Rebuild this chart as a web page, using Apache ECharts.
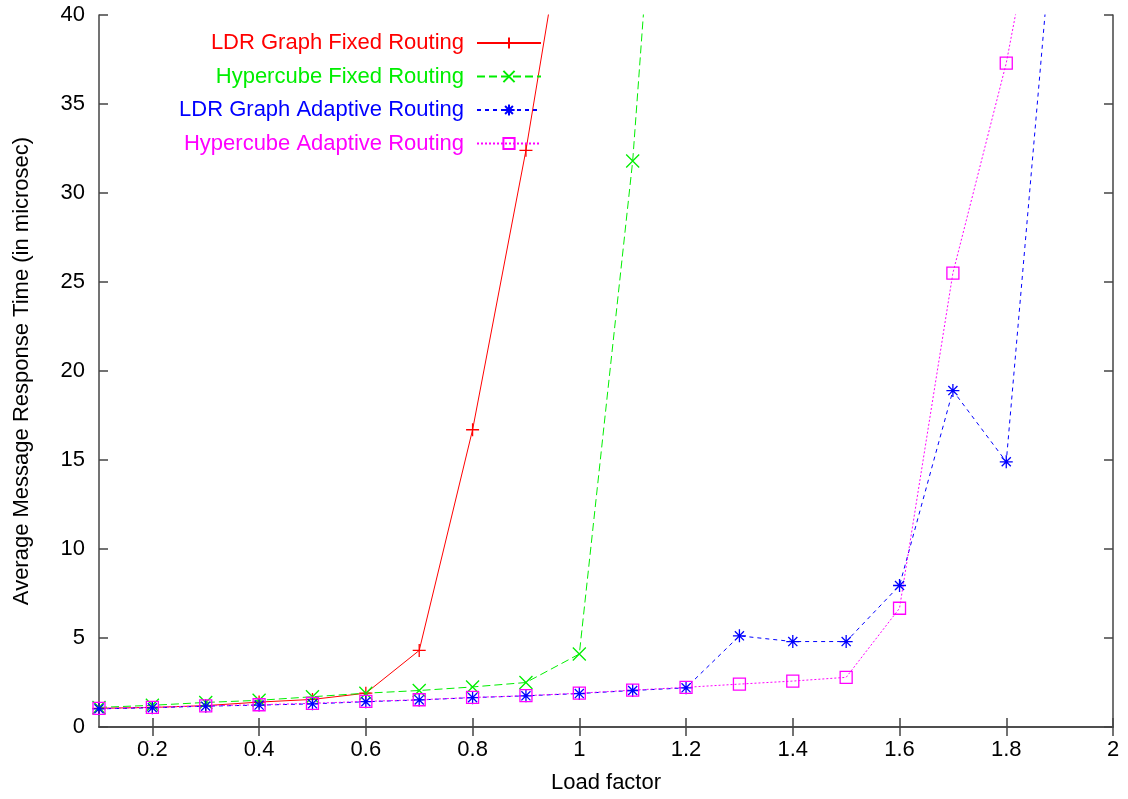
<!DOCTYPE html>
<html>
<head>
<meta charset="utf-8">
<script src="https://cdn.jsdelivr.net/npm/echarts@6/dist/echarts.min.js"></script>
<style>
  html, body { margin: 0; padding: 0; background: #fff; }
  #chart { width: 1128px; height: 799px; }
</style>
</head>
<body>
<div id="chart"></div>
<script>
const loads = [0.1, 0.2, 0.3, 0.4, 0.5, 0.6, 0.7, 0.8, 0.9, 1.0, 1.1, 1.2, 1.3, 1.4, 1.5, 1.6, 1.7, 1.8, 1.9];
const ldrFixed = [1.05, 1.1, 1.2, 1.4, 1.55, 1.9, 4.3, 16.7, 32.4, 50.5];
const hyperFixed = [1.1, 1.22, 1.38, 1.5, 1.7, 1.9, 2.05, 2.25, 2.5, 4.1, 31.8, 72.8];
const ldrAdaptive = [1.02, 1.08, 1.17, 1.23, 1.3, 1.42, 1.52, 1.65, 1.75, 1.88, 2.05, 2.2, 5.12, 4.8, 4.8, 7.95, 18.9, 14.9, 49.5];
const hyperAdaptive = [1.05, 1.1, 1.19, 1.25, 1.33, 1.44, 1.53, 1.66, 1.76, 1.9, 2.07, 2.23, 2.41, 2.58, 2.79, 6.67, 25.5, 37.3, 53];
const seriesNames = ["LDR Graph Fixed Routing", "Hypercube Fixed Routing", "LDR Graph Adaptive Routing", "Hypercube Adaptive Routing"];
const xTicks = [0.2, 0.4, 0.6, 0.8, 1.0, 1.2, 1.4, 1.6, 1.8, 2.0];

const colors = ["#ff0000", "#00ee00", "#0000ff", "#ff00ff"];
const symbols = [
  "path://M0,5L10,5M5,0L5,10",
  "path://M0,0L10,10M0,10L10,0",
  "path://M0,5L10,5M5,0L5,10M1.5,1.5L8.5,8.5M1.5,8.5L8.5,1.5",
  "path://M0,0L10,0L10,10L0,10Z"
];
const dashes = ["solid", [8, 4], [4, 4], [2, 2]];
const font = "Liberation Sans, Arial, sans-serif";
const frame = "#444";

const chart = echarts.init(document.getElementById("chart"));

function pairs(values) {
  return values.map((v, i) => [loads[i], v]);
}

const allData = [ldrFixed, hyperFixed, ldrAdaptive, hyperAdaptive];

const option = {
  animation: false,
  backgroundColor: "#fff",
  textStyle: { fontFamily: font },
  grid: { left: 99, top: 15, right: 15, bottom: 71 },
  legend: {
    orient: "vertical",
    align: "right",
    right: 581,
    top: 27,
    itemWidth: 64,
    itemHeight: 14,
    itemGap: 11.5,
    textStyle: { fontSize: 22, fontFamily: font, lineHeight: 22, padding: [0, 8, 0, 0] },
    data: seriesNames.map((n, i) => ({ name: n, textStyle: { color: colors[i] } }))
  },
  xAxis: [
    {
      type: "value",
      min: 0.1,
      max: 2,
      name: "Load factor",
      nameLocation: "middle",
      nameGap: 45,
      nameTextStyle: { fontSize: 22, color: "#000" },
      axisLine: { lineStyle: { color: frame, width: 1.5 } },
      axisTick: { inside: true, length: 9, customValues: xTicks, lineStyle: { color: frame, width: 1.5 } },
      axisLabel: {
        customValues: xTicks,
        fontSize: 22,
        color: "#000",
        margin: 12,
        formatter: v => String(parseFloat(v.toFixed(1)))
      },
      splitLine: { show: false }
    },
    {
      type: "value",
      position: "top",
      min: 0.1,
      max: 2,
      axisLine: { lineStyle: { color: frame, width: 1.5 } },
      axisTick: { inside: true, length: 9, customValues: xTicks, lineStyle: { color: frame, width: 1.5 } },
      axisLabel: { show: false },
      splitLine: { show: false }
    }
  ],
  yAxis: [
    {
      type: "value",
      min: 0,
      max: 40,
      interval: 5,
      name: "Average Message Response Time (in microsec)",
      nameLocation: "middle",
      nameGap: 66,
      nameTextStyle: { fontSize: 22, color: "#000" },
      axisLine: { show: true, lineStyle: { color: frame, width: 1.5 } },
      axisTick: { show: true, inside: true, length: 9, lineStyle: { color: frame, width: 1.5 } },
      axisLabel: { fontSize: 22, color: "#000", margin: 14 },
      splitLine: { show: false }
    },
    {
      type: "value",
      position: "right",
      min: 0,
      max: 40,
      interval: 5,
      axisLine: { show: true, lineStyle: { color: frame, width: 1.5 } },
      axisTick: { show: true, inside: true, length: 9, lineStyle: { color: frame, width: 1.5 } },
      axisLabel: { show: false },
      splitLine: { show: false }
    }
  ],
  series: allData.map((values, i) => ({
    name: seriesNames[i],
    type: "line",
    xAxisIndex: 0,
    yAxisIndex: 0,
    data: pairs(values),
    clip: true,
    symbol: symbols[i],
    symbolSize: i === 3 ? 12 : 13,
    showAllSymbol: true,
    color: colors[i],
    lineStyle: { color: colors[i], width: 1, type: dashes[i] },
    itemStyle: { color: "transparent", borderColor: colors[i], borderWidth: 1.3 }
  }))
};

chart.setOption(option);
</script>
</body>
</html>
